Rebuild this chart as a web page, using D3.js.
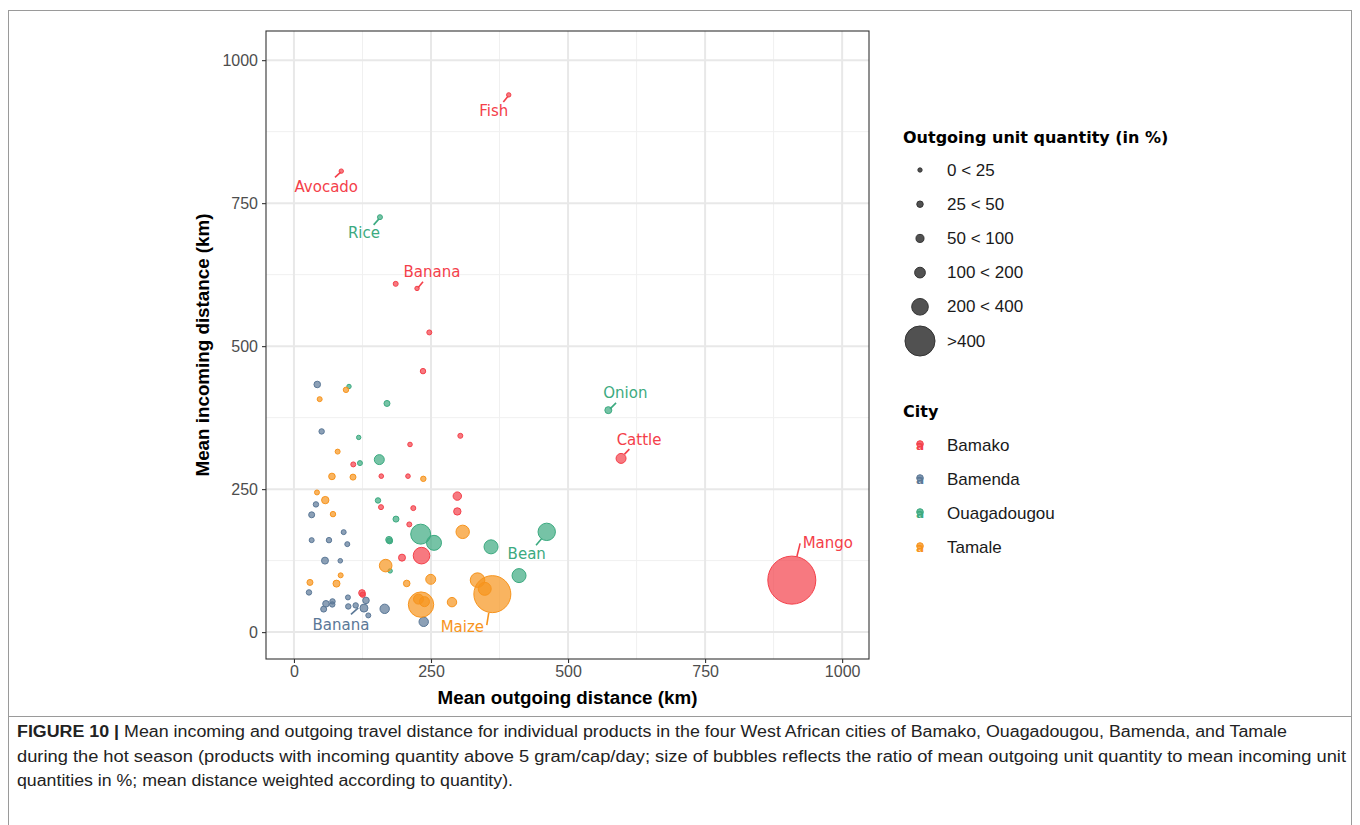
<!DOCTYPE html>
<html>
<head>
<meta charset="utf-8">
<script src="https://cdn.jsdelivr.net/npm/d3@7"></script>
<style>
  body { margin: 0; background: #fff; }
  svg { display: block; }
</style>
</head>
<body>
<svg id="fig" width="1360" height="825"></svg>
<script>
// ---- data -------------------------------------------------------------
const cities = ["Bamako", "Bamenda", "Ouagadougou", "Tamale"];
const cityColors = ["#F4404A", "#5B7897", "#3CAA80", "#F7941D"];

// rows: [mean outgoing distance km, mean incoming distance km, outgoing/incoming unit quantity %, product]
const bamako = [
  [391.8, 939.3, 21, "Fish"], [86.3, 806, 21, "Avocado"], [224.5, 600.9, 21, "Banana"],
  [185.6, 608.9, 27], [246.9, 524, 27], [235.4, 456.3, 32], [303.5, 343.2, 27],
  [211.7, 328.1, 23], [159.3, 272.7, 23], [208, 272.7, 23], [108.2, 293.2, 27],
  [298, 237.8, 77], [298, 211, 59], [158.8, 218.5, 27], [217.7, 216.8, 27],
  [210.4, 188.3, 27], [232.7, 133.7, 299], [197.1, 130.2, 53], [124.1, 68.5, 47],
  [125.5, 65.5, 32], [596.7, 303.7, 108, "Cattle"], [908.2, 90.9, 2500, "Mango"]
];
const bamenda = [
  [42.5, 433, 47], [50.5, 350.9, 32], [40.1, 223.3, 32], [32.3, 205.1, 39],
  [90.7, 174.8, 27], [32.3, 160.8, 27], [63.9, 160.8, 32], [97.3, 153.8, 27],
  [56.6, 125, 53], [84.5, 124.7, 23], [27.4, 69.4, 32], [98.5, 60.7, 27],
  [70.3, 53.7, 32], [69.9, 48.4, 32], [58.4, 49.5, 47], [54.2, 40.2, 39],
  [99.1, 44.9, 32], [112.6, 46.7, 32], [131.4, 55.4, 47], [127.7, 42, 69, "Banana"],
  [135.6, 29.2, 27], [165.5, 40.7, 96], [236.7, 18, 96]
];
const ouagadougou = [
  [156.9, 725.5, 27, "Rice"], [573.5, 388.1, 53, "Onion"], [100.4, 429.5, 21],
  [169.7, 399.8, 39], [118.1, 340.4, 21], [120.4, 295.5, 27], [155.7, 301.6, 108],
  [153.3, 230.2, 32], [186.1, 197.6, 39], [173.4, 161.5, 47], [174.5, 159.5, 39],
  [231.2, 171.3, 434], [255.5, 156.1, 244], [359.5, 149.1, 213],
  [461.1, 175.3, 329, "Bean"], [410.6, 98.8, 213], [175.5, 107, 21]
];
const tamale = [
  [94.9, 423.6, 32], [46.9, 407.3, 27], [79.7, 315.6, 27], [69.3, 272.2, 47],
  [107.7, 271, 39], [236, 268, 32], [42, 244.2, 27], [57.1, 230.8, 59],
  [71.2, 206.3, 32], [307.8, 175.3, 195], [167.3, 116.3, 172], [249.5, 92.3, 108],
  [334.9, 90.9, 231], [348, 75.7, 183], [361.9, 66.4, 1485, "Maize"],
  [29.2, 86.9, 39], [85.2, 99.3, 27], [77.6, 84.8, 53], [205.7, 85.1, 47],
  [231.8, 48.1, 700], [227.2, 57.7, 108], [238.1, 53.3, 108], [288.3, 52.4, 96]
];
const citySeries = [bamako, bamenda, ouagadougou, tamale];

const sizeBins = ["0 < 25", "25 < 50", "50 < 100", "100 < 200", "200 < 400", ">400"];
const sizeKeyValues = [20, 45, 70, 125, 300, 980];
const xTicks = [0, 250, 500, 750, 1000];
const yTicks = [0, 250, 500, 750, 1000];
const minorTicks = [125, 375, 625, 875];

const captionLines = [
  ["FIGURE 10 | ", "Mean incoming and outgoing travel distance for individual products in the four West African cities of Bamako, Ouagadougou, Bamenda, and Tamale"],
  ["", "during the hot season (products with incoming quantity above 5 gram/cap/day; size of bubbles reflects the ratio of mean outgoing unit quantity to mean incoming unit"],
  ["", "quantities in %; mean distance weighted according to quantity)."]
];

// ---- layout -------------------------------------------------------------
const panel = { left: 266, right: 869, top: 31, bottom: 659 };
// label placement: text centre offset (dx, dy) and leader segment, in px from the mark centre
const labelLayout = {
  "Bamako|Fish":        { dx: -15, dy: 16,  seg: [-5.4, 7, -0.7, 1.3] },
  "Bamako|Avocado":     { dx: -15, dy: 16,  seg: [-6.3, 6.3, -0.6, 1] },
  "Ouagadougou|Rice":   { dx: -16, dy: 16,  seg: [-6.3, 7.7, -1, 1.7] },
  "Bamako|Banana":      { dx: 15,  dy: -16, seg: [6, -6.6, 1, -0.6] },
  "Ouagadougou|Onion":  { dx: 17,  dy: -17, seg: [7.7, -7.3, 1.7, -1.3] },
  "Bamako|Cattle":      { dx: 18,  dy: -18, seg: [8.3, -9.3, 3.3, -4] },
  "Bamako|Mango":       { dx: 36,  dy: -37, seg: [5, -23.3, 8.3, -36.7] },
  "Ouagadougou|Bean":   { dx: -20, dy: 22,  seg: [-10.7, 13.3, -5, 6.6] },
  "Tamale|Maize":       { dx: -30, dy: 33,  seg: [-5.6, 31, -3.6, 18.7] },
  "Bamenda|Banana":     { dx: -23, dy: 17,  seg: [-13, 6.3, -5.7, -0.3] }
};

const svg = d3.select("#fig");
const sans = "'Liberation Sans', Arial, sans-serif";
const labelFont = "'DejaVu Sans', Verdana, sans-serif";

const x = d3.scaleLinear().domain([-51, 1049]).range([panel.left, panel.right]);
const y = d3.scaleLinear().domain([-47, 1051]).range([panel.bottom, panel.top]);
const r = d3.scaleSqrt().domain([0, 2500]).range([0, 24]);
const color = d3.scaleOrdinal().domain(cities).range(cityColors);

// figure frame
svg.append("rect").attr("x", 8.5).attr("y", 10.5).attr("width", 1343).attr("height", 706)
  .attr("fill", "none").attr("stroke", "#9a9a9a").attr("stroke-width", 1);
svg.append("line").attr("x1", 8.5).attr("x2", 8.5).attr("y1", 716).attr("y2", 825).attr("stroke", "#9a9a9a");
svg.append("line").attr("x1", 1351.5).attr("x2", 1351.5).attr("y1", 716).attr("y2", 825).attr("stroke", "#9a9a9a");

// panel grid
const grid = svg.append("g");
grid.selectAll(".vminor").data(minorTicks).join("line")
  .attr("x1", d => x(d)).attr("x2", d => x(d)).attr("y1", panel.top).attr("y2", panel.bottom)
  .attr("stroke", "#F0F0F0").attr("stroke-width", 1);
grid.selectAll(".hminor").data(minorTicks).join("line")
  .attr("y1", d => y(d)).attr("y2", d => y(d)).attr("x1", panel.left).attr("x2", panel.right)
  .attr("stroke", "#F0F0F0").attr("stroke-width", 1);
grid.selectAll(".vmajor").data(xTicks).join("line")
  .attr("x1", d => x(d)).attr("x2", d => x(d)).attr("y1", panel.top).attr("y2", panel.bottom)
  .attr("stroke", "#E8E8E8").attr("stroke-width", 2);
grid.selectAll(".hmajor").data(yTicks).join("line")
  .attr("y1", d => y(d)).attr("y2", d => y(d)).attr("x1", panel.left).attr("x2", panel.right)
  .attr("stroke", "#E8E8E8").attr("stroke-width", 2);

// axes
const xAxis = svg.append("g").attr("transform", `translate(0,${panel.bottom})`)
  .call(d3.axisBottom(x).tickValues(xTicks).tickSize(4).tickPadding(3).tickFormat(d3.format("d")));
const yAxis = svg.append("g").attr("transform", `translate(${panel.left},0)`)
  .call(d3.axisLeft(y).tickValues(yTicks).tickSize(4).tickPadding(4).tickFormat(d3.format("d")));
[xAxis, yAxis].forEach(g => {
  g.select(".domain").remove();
  g.selectAll(".tick line").attr("stroke", "#333").attr("stroke-width", 1.1);
  g.selectAll(".tick text").attr("fill", "#4D4D4D").style("font-family", sans).style("font-size", "16px");
});

// points
const pts = svg.append("g");
citySeries.forEach((rows, i) => {
  const c = cities[i];
  pts.append("g").selectAll("circle").data(rows).join("circle")
    .attr("cx", d => x(d[0])).attr("cy", d => y(d[1])).attr("r", d => r(d[2]))
    .attr("fill", color(c)).attr("fill-opacity", 0.7)
    .attr("stroke", color(c)).attr("stroke-width", 1);
});

// product labels with leader segments
const labels = svg.append("g");
citySeries.forEach((rows, i) => {
  const c = cities[i];
  rows.filter(d => d[3]).forEach(d => {
    const lay = labelLayout[c + "|" + d[3]];
    const px = x(d[0]), py = y(d[1]);
    labels.append("line")
      .attr("x1", px + lay.seg[0]).attr("y1", py + lay.seg[1])
      .attr("x2", px + lay.seg[2]).attr("y2", py + lay.seg[3])
      .attr("stroke", color(c)).attr("stroke-width", 1.6);
    labels.append("text")
      .attr("x", px + lay.dx).attr("y", py + lay.dy)
      .attr("text-anchor", "middle").attr("dominant-baseline", "central")
      .attr("fill", color(c)).style("font-family", labelFont).style("font-size", "15px")
      .text(d[3]);
  });
});

// panel border
svg.append("rect").attr("x", panel.left).attr("y", panel.top)
  .attr("width", panel.right - panel.left).attr("height", panel.bottom - panel.top)
  .attr("fill", "none").attr("stroke", "#333").attr("stroke-width", 1.1);

// axis titles
svg.append("text").attr("x", (panel.left + panel.right) / 2).attr("y", 704)
  .attr("text-anchor", "middle").style("font-family", sans).style("font-weight", "bold")
  .style("font-size", "18.8px").text("Mean outgoing distance (km)");
svg.append("text").attr("transform", `translate(209,${(panel.top + panel.bottom) / 2}) rotate(-90)`)
  .attr("text-anchor", "middle").style("font-family", sans).style("font-weight", "bold")
  .style("font-size", "18.8px").text("Mean incoming distance (km)");

// size legend
const lg = svg.append("g");
lg.append("text").attr("x", 903).attr("y", 143).style("font-family", labelFont)
  .style("font-weight", "bold").style("font-size", "16px").text("Outgoing unit quantity (in %)");
const rowY = d3.scalePoint().domain(sizeBins).range([170, 341]);
sizeBins.forEach((b, i) => {
  lg.append("circle").attr("cx", 920).attr("cy", rowY(b)).attr("r", r(sizeKeyValues[i]))
    .attr("fill", "#333").attr("fill-opacity", 0.85).attr("stroke", "#333").attr("stroke-width", 1);
  lg.append("text").attr("x", 947).attr("y", rowY(b)).attr("dominant-baseline", "central")
    .style("font-family", sans).style("font-size", "17px").attr("fill", "#1a1a1a").text(b);
});

// city legend
lg.append("text").attr("x", 903).attr("y", 417).style("font-family", labelFont)
  .style("font-weight", "bold").style("font-size", "16px").text("City");
const cityY = d3.scalePoint().domain(cities).range([445, 547]);
cities.forEach(c => {
  lg.append("text").attr("x", 920).attr("y", cityY(c) + 4.5).attr("text-anchor", "middle")
    .attr("fill", color(c)).style("font-family", labelFont).style("font-weight", "bold")
    .style("font-size", "12px").text("a");
  lg.append("circle").attr("cx", 920).attr("cy", cityY(c) - 1).attr("r", 3.3)
    .attr("fill", color(c)).attr("fill-opacity", 0.8).attr("stroke", color(c));
  lg.append("text").attr("x", 947).attr("y", cityY(c)).attr("dominant-baseline", "central")
    .style("font-family", sans).style("font-size", "17px").attr("fill", "#1a1a1a").text(c);
});

// caption
const capWidths = [1270, 1329, 496];
captionLines.forEach((ln, i) => {
  const t = svg.append("text").attr("x", 17).attr("y", 737 + i * 24.5)
    .style("font-family", sans).style("font-size", "16px").attr("fill", "#222")
    .attr("textLength", capWidths[i]).attr("lengthAdjust", "spacingAndGlyphs");
  if (ln[0]) t.append("tspan").style("font-weight", "bold").text(ln[0]);
  t.append("tspan").text(ln[1]);
});
</script>
</body>
</html>
